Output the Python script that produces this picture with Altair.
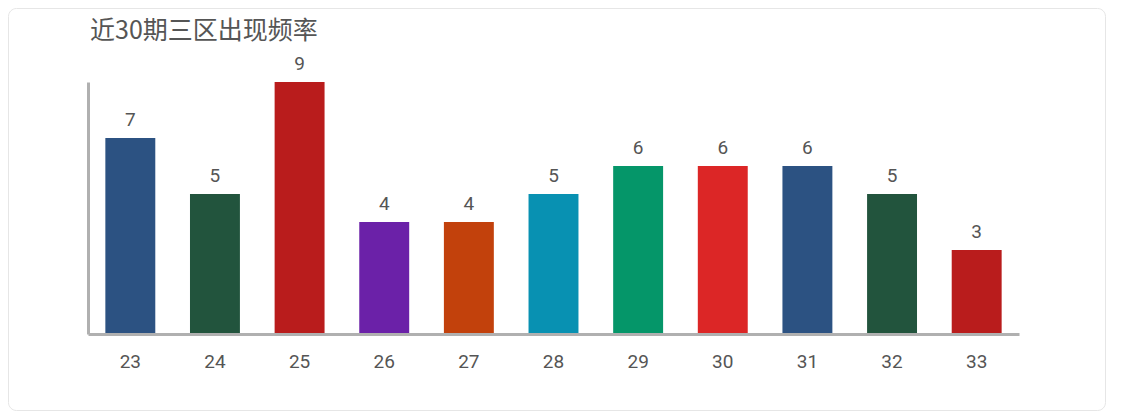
import altair as alt
import pandas as pd

periods = ["23", "24", "25", "26", "27", "28", "29", "30", "31", "32", "33"]
counts = [7, 5, 9, 4, 4, 5, 6, 6, 6, 5, 3]
colors = ["#2c5282", "#22543d", "#b91c1c", "#6b21a8", "#c2410c", "#0891b2",
          "#059669", "#dc2626", "#2c5282", "#22543d", "#b91c1c"]
title_text = "近30期三区出现频率"

df = pd.DataFrame({"period": periods, "count": counts, "color": colors})

W, H = 931, 252

x_enc = alt.X("period:N", sort=periods,
              scale=alt.Scale(paddingInner=0.41, paddingOuter=0.205),
              axis=alt.Axis(title=None, ticks=False, labelAngle=0, labelPadding=18,
                            labelFont="Roboto", labelFontSize=19, labelColor="#555555",
                            domainColor="#b0b0b0", domainWidth=3, grid=False, zindex=1))
y_enc = alt.Y("count:Q", scale=alt.Scale(domain=[0, 9], nice=False),
              axis=alt.Axis(title=None, labels=False, ticks=False, grid=False,
                            domainColor="#b0b0b0", domainWidth=3, zindex=1))

card = alt.Chart(pd.DataFrame({"k": [0]})).mark_rect(
    fill="white", stroke="#e6e6e6", strokeWidth=1, cornerRadius=8
).encode(x=alt.value(-79.5), x2=alt.value(1017.5), y=alt.value(-73.5), y2=alt.value(328.5))

bars = alt.Chart(df).mark_bar().encode(
    x=x_enc, y=y_enc,
    color=alt.Color("color:N", scale=None),
)

labels = alt.Chart(df).mark_text(
    dy=-12, baseline="alphabetic", font="Roboto", fontSize=19, color="#555555"
).encode(x=alt.X("period:N", sort=periods), y="count:Q", text="count:Q")

title = alt.Chart(pd.DataFrame({"t": [title_text]})).mark_text(
    align="left", baseline="middle", font="Noto Sans CJK SC", fontSize=25,
    color="#555555"
).encode(x=alt.value(2), y=alt.value(-51), text="t:N")

chart = alt.layer(card, bars, labels, title).properties(
    width=W, height=H,
    autosize=alt.AutoSizeParams(type="none"),
    padding={"left": 80, "top": 74, "right": 90, "bottom": 78},
).configure_view(stroke=None)

chart.save("out.html", embed_options={"renderer": "svg", "actions": False})
